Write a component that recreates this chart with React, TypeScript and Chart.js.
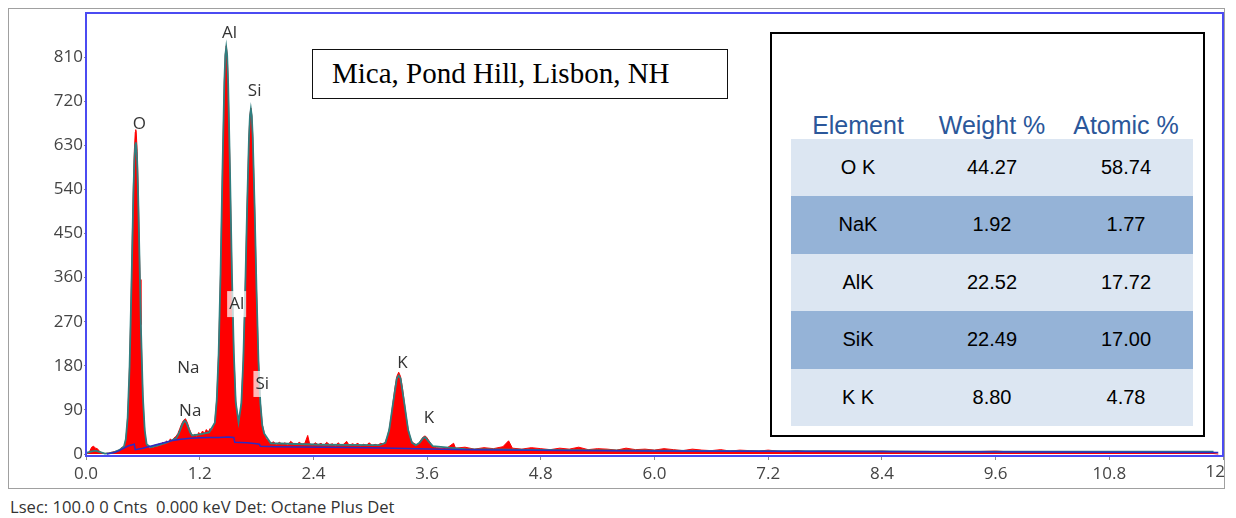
import React, { useEffect, useRef } from 'react';
import { Chart, registerables } from 'chart.js';

Chart.register(...registerables);

// Measured spectrum (red): energy in keV, counts
const spectrumKev = [
  0.00, 0.02, 0.04, 0.06, 0.08, 0.10, 0.12, 0.14, 0.16, 0.18, 0.20, 0.24, 0.28, 0.32, 0.36, 0.38,
  0.40, 0.41, 0.42, 0.43, 0.44, 0.45, 0.46, 0.47, 0.48, 0.49, 0.50, 0.51, 0.52, 0.525, 0.53, 0.54, 0.55, 0.56, 0.57, 0.58, 0.59, 0.60, 0.61, 0.62, 0.63, 0.64, 0.65,
  0.67, 0.69, 0.71, 0.73, 0.75, 0.77, 0.79, 0.81, 0.83, 0.85, 0.87, 0.89, 0.91, 0.93,
  0.95, 0.97, 0.99, 1.01, 1.03, 1.05, 1.07, 1.09, 1.11, 1.13,
  1.15, 1.17, 1.19, 1.21, 1.23, 1.25, 1.27, 1.29, 1.31, 1.33, 1.35,
  1.36, 1.38, 1.40, 1.42, 1.44, 1.46, 1.47, 1.48, 1.49, 1.50, 1.52, 1.54, 1.56, 1.58, 1.60, 1.61, 1.62,
  1.64, 1.66, 1.68, 1.70, 1.72, 1.73, 1.74, 1.75, 1.76, 1.78, 1.80, 1.82, 1.84, 1.86, 1.88, 1.90,
  1.92, 1.95, 1.98, 2.01, 2.04, 2.07, 2.10, 2.13, 2.16, 2.19, 2.22, 2.25, 2.28, 2.31, 2.34, 2.36, 2.39, 2.42, 2.45, 2.48, 2.51,
  2.54, 2.57, 2.60, 2.63, 2.66, 2.69, 2.72, 2.75, 2.78, 2.81, 2.84, 2.87, 2.90, 2.93, 2.96, 2.99, 3.02, 3.05, 3.08, 3.11, 3.14,
  3.16, 3.18, 3.20, 3.22, 3.24, 3.26, 3.28, 3.30, 3.32, 3.34, 3.36, 3.38, 3.40, 3.42, 3.44, 3.46, 3.48,
  3.50, 3.52, 3.54, 3.56, 3.58, 3.60, 3.62, 3.64, 3.66, 3.68,
  3.70, 3.80, 3.88, 3.90, 4.00, 4.10, 4.20, 4.30, 4.40, 4.46, 4.50, 4.60, 4.70, 4.80,
  4.90, 5.00, 5.10, 5.20, 5.30, 5.40, 5.50, 5.60, 5.70, 5.80, 5.90, 6.00, 6.10, 6.20, 6.30, 6.40,
  6.50, 6.60, 6.70, 6.80, 6.90, 7.00, 7.10, 7.20, 7.30, 7.40, 7.50, 7.60, 7.80, 8.00, 8.20, 8.40,
  8.60, 8.80, 9.00, 9.20, 9.40, 9.60, 9.80, 10.00, 10.20, 10.40, 10.60, 10.80, 11.00, 11.20, 11.40, 11.60, 11.80, 11.95,
];
const spectrumCounts = [
  0, 2, 6, 14, 16, 12, 11, 6, 3, 2, 1, 2, 4, 6, 9, 14,
  15, 20, 31, 49, 78, 122, 184, 264, 356, 455, 547, 618, 657, 662, 657, 618, 547, 455, 356, 264, 184, 122, 78, 49, 31, 20, 15,
  12, 16, 13, 19, 15, 21, 17, 24, 20, 27, 23, 31, 26, 33,
  36, 42, 52, 62, 69, 72, 64, 52, 42, 37,
  41, 36, 44, 40, 47, 42, 50, 45, 52, 48, 58,
  67, 112, 208, 370, 577, 761, 816, 833, 816, 761, 577, 370, 208, 110, 74, 66, 70,
  106, 193, 333, 502, 648, 691, 706, 691, 648, 502, 333, 193, 106, 61, 44, 32,
  28, 22, 25, 19, 24, 20, 23, 18, 26, 21, 19, 24, 20, 22, 38, 21, 18, 23, 19, 22, 17,
  24, 19, 21, 16, 23, 18, 20, 26, 17, 21, 19, 22, 16, 20, 18, 23, 17, 20, 18, 22, 20,
  25, 35, 51, 75, 105, 135, 158, 167, 158, 135, 105, 75, 51, 35, 25, 22, 20,
  18, 24, 30, 35, 37, 33, 27, 21, 16, 14,
  13, 11, 22, 12, 14, 10, 13, 11, 15, 27, 12, 10, 13, 11,
  9, 12, 10, 14, 9, 11, 10, 8, 12, 9, 10, 8, 11, 9, 7, 10,
  8, 7, 9, 6, 8, 7, 6, 8, 6, 5, 7, 5, 6, 5, 5, 6,
  4, 5, 5, 4, 5, 6, 4, 5, 4, 5, 4, 4, 5, 4, 4, 4, 3, 0,
];

// Fitted spectrum outline (teal)
const fitKev = [
  0.00, 0.05, 0.10, 0.15, 0.20, 0.25, 0.30, 0.35, 0.40,
  0.42, 0.44, 0.46, 0.48, 0.50, 0.51, 0.52, 0.525, 0.53, 0.54, 0.55, 0.56, 0.58, 0.60, 0.62, 0.64,
  0.68, 0.75, 0.85, 0.95, 0.98, 1.00, 1.02, 1.04, 1.06, 1.08, 1.10, 1.12, 1.20, 1.30,
  1.36, 1.38, 1.40, 1.42, 1.44, 1.46, 1.47, 1.48, 1.49, 1.50, 1.52, 1.54, 1.56, 1.58, 1.61,
  1.64, 1.66, 1.68, 1.70, 1.72, 1.73, 1.74, 1.75, 1.76, 1.78, 1.80, 1.82, 1.84, 1.86, 1.88, 1.95,
  2.50, 3.10, 3.16, 3.20, 3.24, 3.28, 3.30, 3.32, 3.36, 3.40, 3.44, 3.48, 3.52, 3.56, 3.58, 3.62, 3.66,
  4.00, 5.00, 6.00, 7.00, 8.00, 9.00, 10.00, 11.00, 11.90,
];
const fitCounts = [
  2, 5, 7, 4, 1, 2, 4, 8, 15,
  30, 75, 178, 345, 530, 598, 631, 636, 631, 598, 530, 440, 256, 118, 48, 20,
  14, 17, 23, 32, 42, 52, 62, 68, 64, 54, 44, 38, 40, 44,
  64, 110, 205, 368, 575, 758, 813, 830, 813, 758, 575, 368, 206, 106, 65,
  104, 191, 331, 500, 646, 689, 704, 689, 646, 500, 331, 191, 104, 59, 42, 22,
  19, 18, 23, 49, 103, 154, 160, 154, 103, 49, 23, 18, 23, 33, 34, 25, 16,
  10, 8, 7, 6, 6, 5, 5, 5, 5,
];

// Background (bremsstrahlung) estimate (blue)
const bgKev = [
  0.22, 0.30, 0.35, 0.40, 0.45, 0.51, 0.52, 0.60, 0.70, 0.80, 0.90, 1.00, 1.10, 1.20, 1.30, 1.40,
  1.50, 1.56, 1.57, 1.70, 1.80, 1.83, 1.84, 2.00, 2.50, 3.00, 3.50, 4.00, 5.00, 6.00, 8.00, 10.00, 11.95,
];
const bgCounts = [
  0, 3, 7, 12, 17, 20, 9, 12, 17, 22, 27, 30, 32, 33, 34, 34,
  35, 34, 24, 23, 21, 20, 16, 15, 14, 13, 11, 9, 7, 6, 5, 4, 3,
];

const yTicks = [0, 90, 180, 270, 360, 450, 540, 630, 720, 810];
const xTicks = [0, 1.2, 2.4, 3.6, 4.8, 6.0, 7.2, 8.4, 9.6, 10.8, 12];
const xTickLabels = ['0.0', '1.2', '2.4', '3.6', '4.8', '6.0', '7.2', '8.4', '9.6', '10.8', '12'];

const markerNames = ['O', 'Al', 'Si', 'Na', 'Na', 'Al', 'Si', 'K', 'K'];
const markerKev = [0.563, 1.516, 1.78, 1.08, 1.10, 1.59, 1.86, 3.34, 3.62];
const markerCounts = [673, 859, 741, 176, 88, 306, 143, 186, 73];
const markerBoxed = [false, false, false, false, false, true, true, false, false];

const tableHeaders = ['Element', 'Weight %', 'Atomic %'];
const tableElements = ['O K', 'NaK', 'AlK', 'SiK', 'K K'];
const tableWeight = ['44.27', '1.92', '22.52', '22.49', '8.80'];
const tableAtomic = ['58.74', '1.77', '17.72', '17.00', '4.78'];

const chartTitle = 'Mica, Pond Hill, Lisbon, NH';
const statusText = 'Lsec: 100.0 0 Cnts  0.000 keV Det: Octane Plus Det';

const TICK_FONT = '"Open Sans", "Noto Sans", sans-serif';
const TICK_SIZE = 17;
const X_TICK_LEN = 4;
const X_TICK_PAD = 4;

const decorPlugin = {
  id: 'decor',
  beforeDraw(chart: any) {
    const { ctx, width, height } = chart;
    ctx.save();
    ctx.fillStyle = '#ffffff';
    ctx.fillRect(0, 0, width, height);
    ctx.strokeStyle = '#a0a0a0';
    ctx.lineWidth = 1;
    ctx.strokeRect(0.5, 0.5, width - 2, height - 1);
    ctx.restore();
  },
  afterDraw(chart: any) {
    const { ctx, chartArea, scales } = chart;
    ctx.save();
    // plot frame
    ctx.strokeStyle = '#4b4bf2';
    ctx.lineWidth = 2;
    ctx.strokeRect(chartArea.left, chartArea.top, chartArea.right - chartArea.left, chartArea.bottom - chartArea.top);

    // last x tick label, right-aligned at its tick
    const xs = scales.x;
    const ly = xs.top + X_TICK_LEN + X_TICK_PAD + (TICK_SIZE * 1.2) / 2 - 2;
    const lastIdx = xTicks.length - 1;
    ctx.font = `${TICK_SIZE}px ${TICK_FONT}`;
    ctx.fillStyle = '#444444';
    ctx.textAlign = 'right';
    ctx.textBaseline = 'middle';
    ctx.fillText(xTickLabels[lastIdx], xs.getPixelForValue(xTicks[lastIdx]) + 2, ly);

    // peak markers
    ctx.textAlign = 'center';
    markerNames.forEach((name, i) => {
      const x = scales.x.getPixelForValue(markerKev[i]);
      const y = scales.y.getPixelForValue(markerCounts[i]);
      if (markerBoxed[i]) {
        const w = ctx.measureText(name).width + 4;
        ctx.fillStyle = 'rgba(255,255,255,0.72)';
        ctx.fillRect(x - w / 2, y - 13, w, 26);
      }
      ctx.fillStyle = '#333333';
      ctx.fillText(name, x, y);
    });
    ctx.restore();
  },
};

function toPoints(xs: number[], ys: number[]) {
  return xs.map((x, i) => ({ x, y: ys[i] }));
}

export default function App() {
  const canvasRef = useRef<HTMLCanvasElement | null>(null);

  useEffect(() => {
    if (!canvasRef.current) return;
    const chart = new Chart(canvasRef.current, {
      type: 'line',
      data: {
        datasets: [
          {
            label: 'Spectrum',
            data: toPoints(spectrumKev, spectrumCounts),
            borderColor: '#ff0000',
            backgroundColor: '#ff0000',
            borderWidth: 1,
            fill: 'origin',
            pointRadius: 0,
            tension: 0,
            order: 3,
          },
          {
            label: 'Fit',
            data: toPoints(fitKev, fitCounts),
            borderColor: '#2f7f80',
            borderWidth: 1.8,
            fill: false,
            pointRadius: 0,
            tension: 0,
            order: 2,
          },
          {
            label: 'Background',
            data: toPoints(bgKev, bgCounts),
            borderColor: '#2b2bc4',
            borderWidth: 1.5,
            fill: false,
            pointRadius: 0,
            tension: 0,
            order: 1,
          },
        ],
      },
      options: {
        animation: false,
        responsive: false,
        maintainAspectRatio: false,
        layout: { padding: { left: 0, right: 3, top: 5, bottom: 0 } },
        plugins: {
          legend: { display: false },
          tooltip: { enabled: false },
          title: { display: false },
        },
        scales: {
          x: {
            type: 'linear',
            min: 0,
            max: 12,
            afterBuildTicks: (s: any) => {
              s.ticks = xTicks.map((v) => ({ value: v }));
            },
            afterFit: (s: any) => {
              s.height = 33;
              s.paddingLeft = 0;
              s.paddingRight = 0;
            },
            ticks: {
              callback: (_v: any, i: number) => (i === xTicks.length - 1 ? '' : xTickLabels[i]),
              font: { family: TICK_FONT, size: TICK_SIZE },
              color: '#444444',
              maxRotation: 0,
              autoSkip: false,
              padding: X_TICK_PAD,
            },
            grid: { drawOnChartArea: false, drawTicks: true, tickLength: X_TICK_LEN, color: '#8a8a8a' },
            border: { display: false },
          },
          y: {
            type: 'linear',
            min: -4,
            max: 900,
            afterBuildTicks: (s: any) => {
              s.ticks = yTicks.map((v) => ({ value: v }));
            },
            afterFit: (s: any) => {
              s.width = 78;
              s.paddingTop = 0;
              s.paddingBottom = 0;
            },
            ticks: {
              callback: (v: any) => String(v),
              font: { family: TICK_FONT, size: TICK_SIZE },
              color: '#444444',
              autoSkip: false,
              padding: 1,
            },
            grid: { drawOnChartArea: false, drawTicks: true, tickLength: 2, color: '#8a8a8a' },
            border: { display: false },
          },
        },
      } as any,
      plugins: [decorPlugin],
    });
    return () => chart.destroy();
  }, []);

  const rowColors = ['#dce6f2', '#95b3d7'];

  return (
    <div style={{ position: 'relative', width: 1220, height: 510 }}>
      <canvas ref={canvasRef} width={1218} height={481} style={{ position: 'absolute', left: 0, top: 0, width: 1218, height: 481 }} />
      <div
        style={{
          position: 'absolute',
          left: 304,
          top: 41,
          width: 416,
          height: 50,
          boxSizing: 'border-box',
          border: '1.5px solid #111',
          background: '#fff',
          fontFamily: '"Liberation Serif", "Times New Roman", serif',
          fontSize: 29,
          lineHeight: '47px',
          paddingLeft: 19,
          color: '#000',
          whiteSpace: 'nowrap',
        }}
      >
        {chartTitle}
      </div>
      <div
        style={{
          position: 'absolute',
          left: 762,
          top: 24,
          width: 435,
          height: 405,
          boxSizing: 'border-box',
          border: '2px solid #000',
          background: '#fff',
          fontFamily: '"Liberation Sans", Arial, sans-serif',
        }}
      >
        <div style={{ position: 'absolute', left: 19, top: 76, width: 402, height: 30, display: 'flex' }}>
          {tableHeaders.map((h) => (
            <div key={h} style={{ width: 134, textAlign: 'center', fontSize: 25, lineHeight: '30px', color: '#2b579a', whiteSpace: 'nowrap' }}>
              {h}
            </div>
          ))}
        </div>
        <div style={{ position: 'absolute', left: 19, top: 105, width: 402 }}>
          {tableElements.map((el, i) => (
            <div key={el} style={{ display: 'flex', height: 57.4, background: rowColors[i % 2], color: '#000', fontSize: 20 }}>
              {[el, tableWeight[i], tableAtomic[i]].map((t, j) => (
                <div key={j} style={{ width: 134, textAlign: 'center', lineHeight: '57.4px' }}>
                  {t}
                </div>
              ))}
            </div>
          ))}
        </div>
      </div>
      <div
        style={{
          position: 'absolute',
          left: 2,
          top: 487,
          fontFamily: TICK_FONT,
          fontSize: 16.6,
          color: '#333',
          whiteSpace: 'pre',
        }}
      >
        {statusText}
      </div>
    </div>
  );
}
